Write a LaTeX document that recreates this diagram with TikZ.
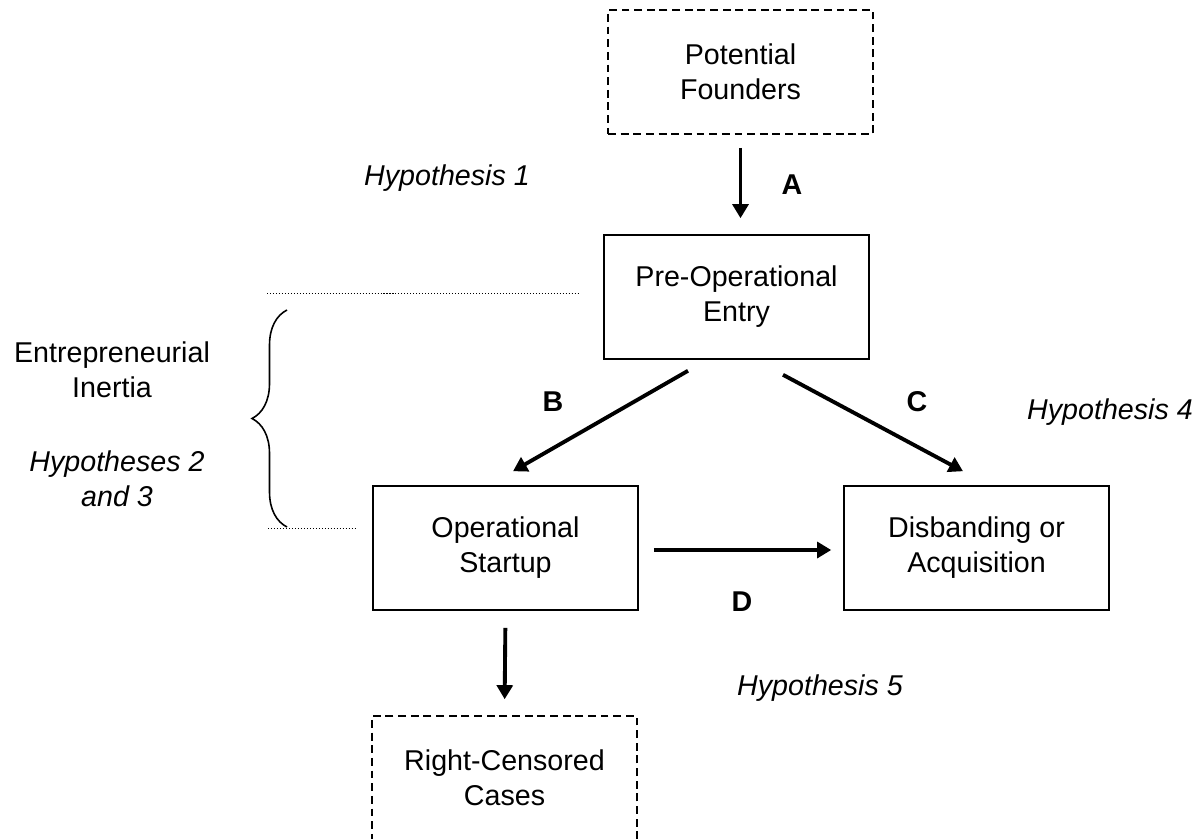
\documentclass[tikz,border=0pt]{standalone}
\usepackage{fontspec}
\setmainfont{Liberation Sans}
\usetikzlibrary{calc,positioning,arrows.meta,decorations.pathreplacing}
\tikzset{
  txt/.style={font=\fontsize{16.3}{19.9}\selectfont, align=center},
  stage/.style={txt, rectangle, draw=black, line width=0.9pt, minimum width=5.3cm, minimum height=2.48cm, inner sep=0pt},
  dstage/.style={stage, dash pattern=on 4.5pt off 2.7pt},
  line/.style={line width=2.2pt, -{Triangle[length=8pt,width=9pt]}},
  hyp/.style={txt, font=\fontsize{16.3}{19.9}\selectfont\itshape},
  lab/.style={txt, font=\fontsize{16.3}{19.9}\selectfont\bfseries},
  sep/.style={draw, line width=0.5pt, dash pattern=on 0.6pt off 1.1pt},
}
\begin{document}
\begin{tikzpicture}[x=0.02cm, y=-0.02cm]
  \useasboundingbox (0,0) rectangle (1202,838);

  % stages
  \node[dstage] (found) at (740.5,72) {Potential\\Founders};
  \node[stage] (preop) at (736.5,297) {Pre-Operational\\Entry};
  \node[stage] (opstart) at (505.5,548) {Operational\\Startup};
  \node[stage] (disband) at (976.5,548) {Disbanding or\\Acquisition};
  \node[dstage] (rcens) at (504.5,778) {Right-Censored\\Cases};

  % transition labels
  \node[lab] (la) at (792,185) {A};
  \node[lab] (lb) at (553,402) {B};
  \node[lab] (lc) at (917,402) {C};
  \node[lab] (ld) at (742,602) {D};

  % hypotheses
  \node[hyp] (h1) at (447,178) {Hypothesis 1};
  \node[txt] (inertia) at (112,370) {Entrepreneurial\\Inertia};
  \node[hyp] (h23) at (117,479) {Hypotheses 2\\and 3};
  \node[hyp] (h4) at (1110,412) {Hypothesis 4};
  \node[hyp] (h5) at (820,688) {Hypothesis 5};

  % inertia span
  \draw[sep] (267,293) -- (580,293);
  \draw[sep] (268,528) -- (357,528);
  \draw[decorate, decoration={brace, amplitude=0.7cm}, line width=0.9pt] (287,527) -- (287,310);

  \path[line]
    (found.south) edge[shorten <=0.26cm, shorten >=0.32cm] (found.south |- preop.north)
    ($(preop.south)+(-48.5,11)$) edge ($(opstart.north)+(7.5,-14)$)
    ($(preop.south)+(46.5,15)$) edge ($(disband.north)+(-13.5,-14)$)
    ($(opstart.east)+(15,2)$) edge ($(disband.west)+(-12,2)$)
    (opstart.south) edge[shorten <=0.34cm, shorten >=0.32cm] (rcens.north);
\end{tikzpicture}
\end{document}
